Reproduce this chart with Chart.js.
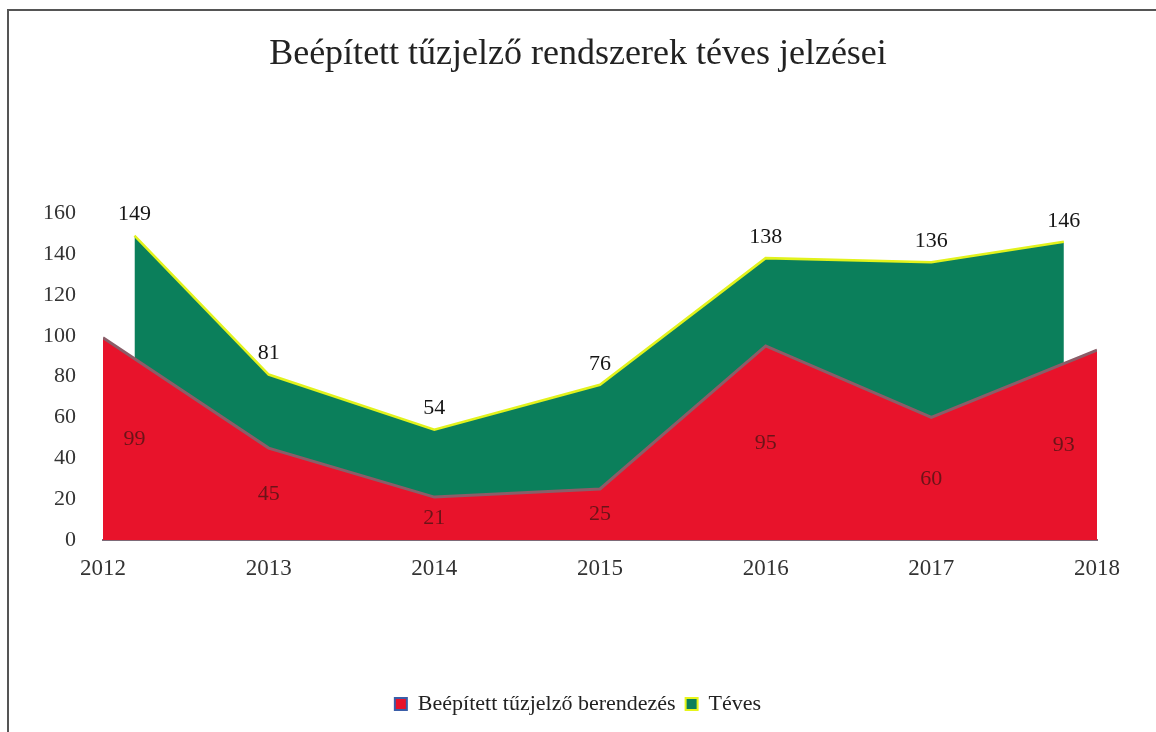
<!DOCTYPE html>
<html>
<head>
<meta charset="utf-8">
<script src="https://cdn.jsdelivr.net/npm/chart.js@4/dist/chart.umd.min.js"></script>
<style>
  html, body { margin: 0; padding: 0; background: #ffffff; }
  #wrap { position: relative; width: 1156px; height: 732px; }
</style>
</head>
<body>
<div id="wrap"><canvas id="c" width="1156" height="732"></canvas></div>
<script>
// ---- data ----
const titleText = 'Beépített tűzjelző rendszerek téves jelzései';
const years = [2012, 2013, 2014, 2015, 2016, 2017, 2018];
const seriesNames = ['Beépített tűzjelző berendezés', 'Téves'];
// red series (Beépített tűzjelző berendezés)
const redX = [2012, 2013, 2014, 2015, 2016, 2017, 2018];
const redValues = [99, 45, 21, 25, 95, 60, 93];
// green series (Téves) – first/last points sit slightly inside the year range in the picture
const greenX = [2012.19, 2013, 2014, 2015, 2016, 2017, 2017.8];
const greenValues = [149, 81, 54, 76, 138, 136, 146];
const yTicks = [0, 20, 40, 60, 80, 100, 120, 140, 160];

const SERIF = '"Liberation Serif", "DejaVu Serif", serif';

const framePlugin = {
  id: 'frame',
  beforeDraw(chart) {
    const ctx = chart.ctx;
    ctx.save();
    ctx.fillStyle = '#ffffff';
    ctx.fillRect(0, 0, chart.width, chart.height);
    ctx.strokeStyle = '#555555';
    ctx.lineWidth = 2;
    ctx.beginPath();
    ctx.moveTo(8, chart.height);
    ctx.lineTo(8, 10);
    ctx.lineTo(chart.width, 10);
    ctx.stroke();
    ctx.restore();
  }
};

const labelPlugin = {
  id: 'valueLabels',
  afterDatasetsDraw(chart) {
    const ctx = chart.ctx;
    const xs = chart.scales.x, ys = chart.scales.y;
    ctx.save();
    ctx.textAlign = 'center';
    ctx.textBaseline = 'middle';
    // green labels above the points
    ctx.font = '22px ' + SERIF;
    ctx.fillStyle = '#161616';
    greenValues.forEach((v, i) => {
      ctx.fillText(String(v), xs.getPixelForValue(greenX[i]), ys.getPixelForValue(v) - 21);
    });
    // red labels inside the area
    ctx.font = '22px ' + SERIF;
    ctx.fillStyle = '#6b1418';
    redValues.forEach((v, i) => {
      ctx.fillText(String(v), xs.getPixelForValue(greenX[i]), ys.getPixelForValue(v / 2));
    });
    ctx.restore();
  }
};

new Chart(document.getElementById('c'), {
  type: 'line',
  data: {
    datasets: [
      {
        label: seriesNames[0],
        data: redX.map((x, i) => ({ x: x, y: redValues[i] })),
        backgroundColor: '#e8132b',
        borderColor: '#8b5d68',
        borderWidth: 3,
        fill: 'origin',
        tension: 0,
        pointRadius: 0,
        pointHoverRadius: 0
      },
      {
        label: seriesNames[1],
        data: greenX.map((x, i) => ({ x: x, y: greenValues[i] })),
        backgroundColor: '#0b7f5b',
        borderColor: '#e2f21c',
        borderWidth: 2.5,
        fill: 'origin',
        tension: 0,
        pointRadius: 0,
        pointHoverRadius: 0
      }
    ]
  },
  options: {
    responsive: false,
    animation: false,
    events: [],
    layout: { padding: { left: 0, right: 0, top: 0, bottom: 7 } },
    scales: {
      x: {
        type: 'linear',
        min: years[0],
        max: years[years.length - 1],
        afterFit(scale) { scale.height = 143; scale.paddingRight = 59; },
        afterBuildTicks(scale) { scale.ticks = years.map(v => ({ value: v })); },
        grid: { display: false, drawTicks: false },
        border: { display: true, color: '#7d6a78', width: 2 },
        ticks: {
          padding: 15,
          color: '#333333',
          font: { family: SERIF, size: 23 },
          callback: v => String(v),
          maxRotation: 0
        }
      },
      y: {
        min: 0,
        max: 160,
        afterFit(scale) { scale.width = 103; },
        afterBuildTicks(scale) { scale.ticks = yTicks.map(v => ({ value: v })); },
        grid: { display: false, drawTicks: false },
        border: { display: false },
        ticks: {
          padding: 27,
          color: '#333333',
          font: { family: SERIF, size: 22 }
        }
      }
    },
    plugins: {
      title: {
        display: true,
        text: titleText,
        color: '#222222',
        font: { family: SERIF, size: 36, weight: 'normal' },
        padding: { top: 33, bottom: 137 }
      },
      legend: {
        display: true,
        position: 'bottom',
        labels: {
          color: '#222222',
          font: { family: SERIF, size: 22 },
          boxWidth: 12,
          boxHeight: 12,
          padding: 10,
          generateLabels(chart) {
            const strokes = ['#3a5ea8', '#e6f51a'];
            return chart.data.datasets.map((ds, i) => ({
              text: ds.label,
              fillStyle: ds.backgroundColor,
              strokeStyle: strokes[i],
              lineWidth: 2,
              fontColor: '#222222',
              hidden: false,
              datasetIndex: i
            }));
          }
        }
      },
      tooltip: { enabled: false }
    }
  },
  plugins: [framePlugin, labelPlugin]
});
</script>
</body>
</html>
